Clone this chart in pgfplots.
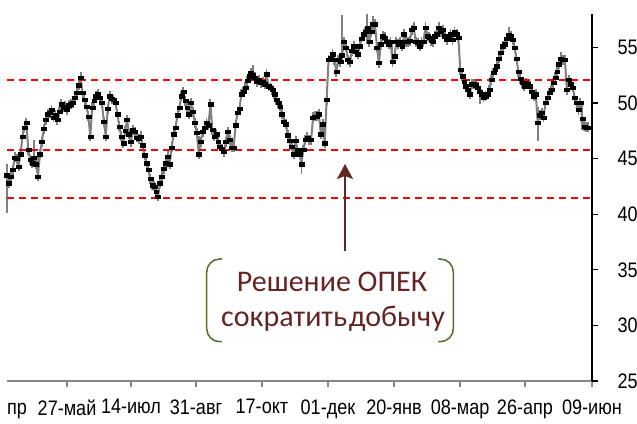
\documentclass[border=0pt]{standalone}
\usepackage{fontspec}
\usepackage{pgfplots}
\pgfplotsset{compat=1.18}
\usepackage{pgfplotstable}
\usetikzlibrary{arrows.meta}
\setmainfont{Liberation Sans}
\newfontfamily\narrowfont[FakeStretch=0.86]{Liberation Sans}
\newfontfamily\calfont{Carlito}
\definecolor{wick}{RGB}{128,128,128}
\definecolor{annot}{RGB}{99,37,35}
\definecolor{brack}{RGB}{84,110,46}
\definecolor{axgray}{RGB}{134,134,134}

% daily close (index = trading day)
\pgfplotstableread[row sep=\\]{
c\\
43.5\\42.8\\43.4\\44.0\\45.1\\45.0\\44.3\\45.4\\47.0\\47.8\\
48.2\\45.8\\44.9\\44.6\\45.1\\44.5\\43.4\\45.4\\46.5\\47.7\\
48.5\\49.0\\49.1\\49.4\\48.7\\48.9\\48.5\\49.2\\49.9\\49.6\\
49.7\\49.4\\49.8\\49.9\\50.0\\50.5\\50.9\\51.6\\52.3\\50.9\\
50.3\\49.7\\48.8\\47.0\\49.6\\50.2\\50.6\\50.8\\50.5\\50.0\\
48.3\\47.0\\49.5\\50.6\\50.4\\50.3\\50.0\\49.0\\47.9\\47.0\\
46.4\\47.5\\48.5\\47.2\\46.5\\47.6\\47.4\\46.9\\46.8\\47.0\\
46.2\\45.3\\44.6\\44.0\\43.2\\42.6\\42.5\\42.0\\41.6\\42.8\\
43.4\\44.1\\44.6\\45.2\\44.5\\46.0\\47.2\\47.8\\48.9\\49.6\\
50.6\\51.0\\50.2\\49.6\\49.0\\50.0\\49.2\\48.2\\47.3\\45.4\\
46.5\\47.4\\47.8\\48.2\\48.0\\49.9\\47.6\\47.0\\47.2\\46.5\\
46.1\\45.9\\45.6\\46.5\\47.4\\46.7\\46.0\\46.0\\48.0\\49.1\\
49.5\\50.8\\51.0\\51.4\\52.0\\52.4\\52.7\\52.5\\52.3\\51.9\\
52.1\\51.8\\51.9\\51.7\\52.6\\51.5\\51.4\\51.2\\50.8\\50.3\\
50.0\\49.7\\49.0\\48.3\\48.1\\47.1\\46.6\\46.1\\45.4\\46.6\\
45.8\\45.4\\44.5\\45.8\\46.7\\46.9\\46.7\\46.7\\48.7\\48.8\\
48.8\\49.0\\47.2\\48.1\\46.4\\50.3\\53.9\\54.1\\54.4\\53.9\\
52.8\\53.9\\53.7\\54.3\\55.5\\55.0\\53.9\\53.7\\54.7\\55.1\\
54.6\\54.4\\55.1\\55.8\\56.2\\56.4\\56.8\\55.5\\56.4\\57.1\\
57.1\\55.0\\53.6\\55.3\\56.0\\55.9\\55.5\\55.3\\55.5\\53.7\\
54.2\\55.5\\55.3\\55.5\\55.1\\56.2\\55.5\\55.5\\55.6\\56.6\\
56.8\\55.5\\55.4\\55.1\\55.5\\55.5\\56.8\\56.0\\55.9\\55.6\\
55.5\\56.0\\56.2\\56.8\\56.4\\56.6\\56.0\\55.7\\55.9\\56.2\\
55.7\\56.4\\56.2\\55.9\\53.0\\52.4\\51.9\\51.5\\51.2\\50.8\\
51.7\\51.7\\51.6\\51.4\\51.0\\50.8\\50.5\\50.6\\50.8\\51.2\\
52.1\\52.7\\53.0\\53.3\\54.0\\54.5\\55.1\\55.3\\55.8\\56.1\\
56.0\\55.7\\55.0\\54.0\\52.8\\52.2\\51.8\\51.5\\51.8\\51.7\\
51.5\\51.0\\50.6\\50.8\\48.2\\48.9\\49.1\\48.7\\50.0\\50.5\\
50.9\\51.2\\51.8\\52.3\\52.8\\53.5\\54.0\\53.9\\53.9\\51.2\\
52.1\\51.7\\51.4\\50.5\\50.0\\49.4\\50.0\\48.6\\47.9\\47.8\\
47.8\\
}\closes

% long intraday ranges (day, low, high)
\pgfplotstableread[row sep=\\]{
d lo hi\\
0 40.1 44.5\\
14 44.6 46.7\\
16 43.2 45.4\\
38 51.7 52.8\\
99 45.2 47.0\\
127 52.2 53.4\\
134 51.6 52.9\\
152 43.6 45.4\\
173 53.8 57.9\\
186 55.3 58.0\\
189 56.5 57.8\\
192 53.3 55.0\\
199 53.4 55.3\\
244 49.9 51.4\\
259 55.7 56.8\\
274 46.6 49.6\\
286 53.6 54.6\\
297 47.6 50.0\\
}\wicks

\begin{document}
\begin{tikzpicture}
\begin{axis}[
  name=ax,
  scale only axis, width=585pt, height=367pt,
  xmin=0, xmax=302, ymin=25, ymax=58,
  clip=false,
  axis x line*=bottom, axis y line*=right,
  x axis line style={-, draw=axgray, line width=1.4pt},
  y axis line style={-, draw=black, line width=1.2pt},
  xtick={31,64,97.6,131.6,165.7,199.8,233.9,267.4,302},
  xticklabels={27-май,14-июл,31-авг,17-окт,01-дек,20-янв,08-мар,26-апр,09-июн},
  ytick={25,30,35,40,45,50,55},
  tick align=outside,
  major tick length=6pt,
  x tick style={draw=axgray, line width=1.2pt},
  y tick style={draw=black, line width=1.2pt},
  /pgf/number format/assume math mode=true,
  tick label style={font=\narrowfont\fontsize{21}{21}\selectfont, text=black},
  xticklabel style={anchor=north, yshift=-9pt},
  yticklabel style={anchor=west, xshift=16pt},
]
% high-low band
\addplot[wick, line width=2pt, line join=round, mark=none]
  table[x expr=\coordindex, y=c]{\closes};
\addplot[draw=none, mark=none,
  error bars/.cd, y dir=both, y fixed=0.45,
  error bar style={draw=wick, solid, line width=1.8pt}, error mark=none]
  table[x expr=\coordindex, y=c]{\closes};
\addplot[draw=none, mark=none,
  error bars/.cd, y dir=plus, y explicit,
  error bar style={draw=wick, solid, line width=1.8pt}, error mark=none]
  table[x=d, y=lo, y error expr=\thisrow{hi}-\thisrow{lo}]{\wicks};
% reference levels
\addplot[red, line width=2pt, dash pattern=on 7pt off 5pt] coordinates {(0,52.05) (302,52.05)};
\addplot[red, line width=2pt, dash pattern=on 7pt off 5pt] coordinates {(0,45.75) (302,45.75)};
\addplot[red, line width=2pt, dash pattern=on 7pt off 5pt] coordinates {(0,41.45) (302,41.45)};
% closes
\addplot[only marks, mark=square*, mark size=1.65pt,
  mark options={draw=black, fill=black, xscale=1.5, line width=0.3pt, rounded corners=0.8pt}]
  table[x expr=\coordindex, y=c]{\closes};
\end{axis}
\begin{scope}[shift={(ax.south west)}]
  % partially visible first date label, clipped at the plot's left edge
  \begin{scope}
    \clip (0pt,-42pt) rectangle (40pt,0pt);
    \node[font=\narrowfont\fontsize{21}{21}\selectfont, anchor=north, yshift=-15pt]
      at (-8.1pt,0pt) {10-апр};
  \end{scope}
  \draw[annot, line width=1.6pt, -{Stealth[length=15pt, width=16pt, inset=3pt]}]
    (338pt,130pt) -- (338pt,217pt);
  \draw[brack, line width=1.5pt, rounded corners=13pt]
    (215pt,122pt) -- (199.7pt,122pt) -- (199.7pt,39.3pt) -- (215pt,39.3pt);
  \draw[brack, line width=1.5pt, rounded corners=13pt]
    (431pt,122pt) -- (446.3pt,122pt) -- (446.3pt,39.3pt) -- (431pt,39.3pt);
  \node[annot, font=\calfont\fontsize{30}{30}\selectfont, anchor=base, inner sep=0pt]
    at (325pt,89.3pt) {Решение ОПЕК};
  \node[annot, font=\calfont\fontsize{30}{30}\selectfont, anchor=base, inner sep=0pt]
    at (326pt,54.3pt) {\spaceskip=0.06em\relax сократить добычу};
  \pgfresetboundingbox
  \path[use as bounding box] (-7pt,-42pt) rectangle (630pt,381pt);
\end{scope}
\end{tikzpicture}
\end{document}
